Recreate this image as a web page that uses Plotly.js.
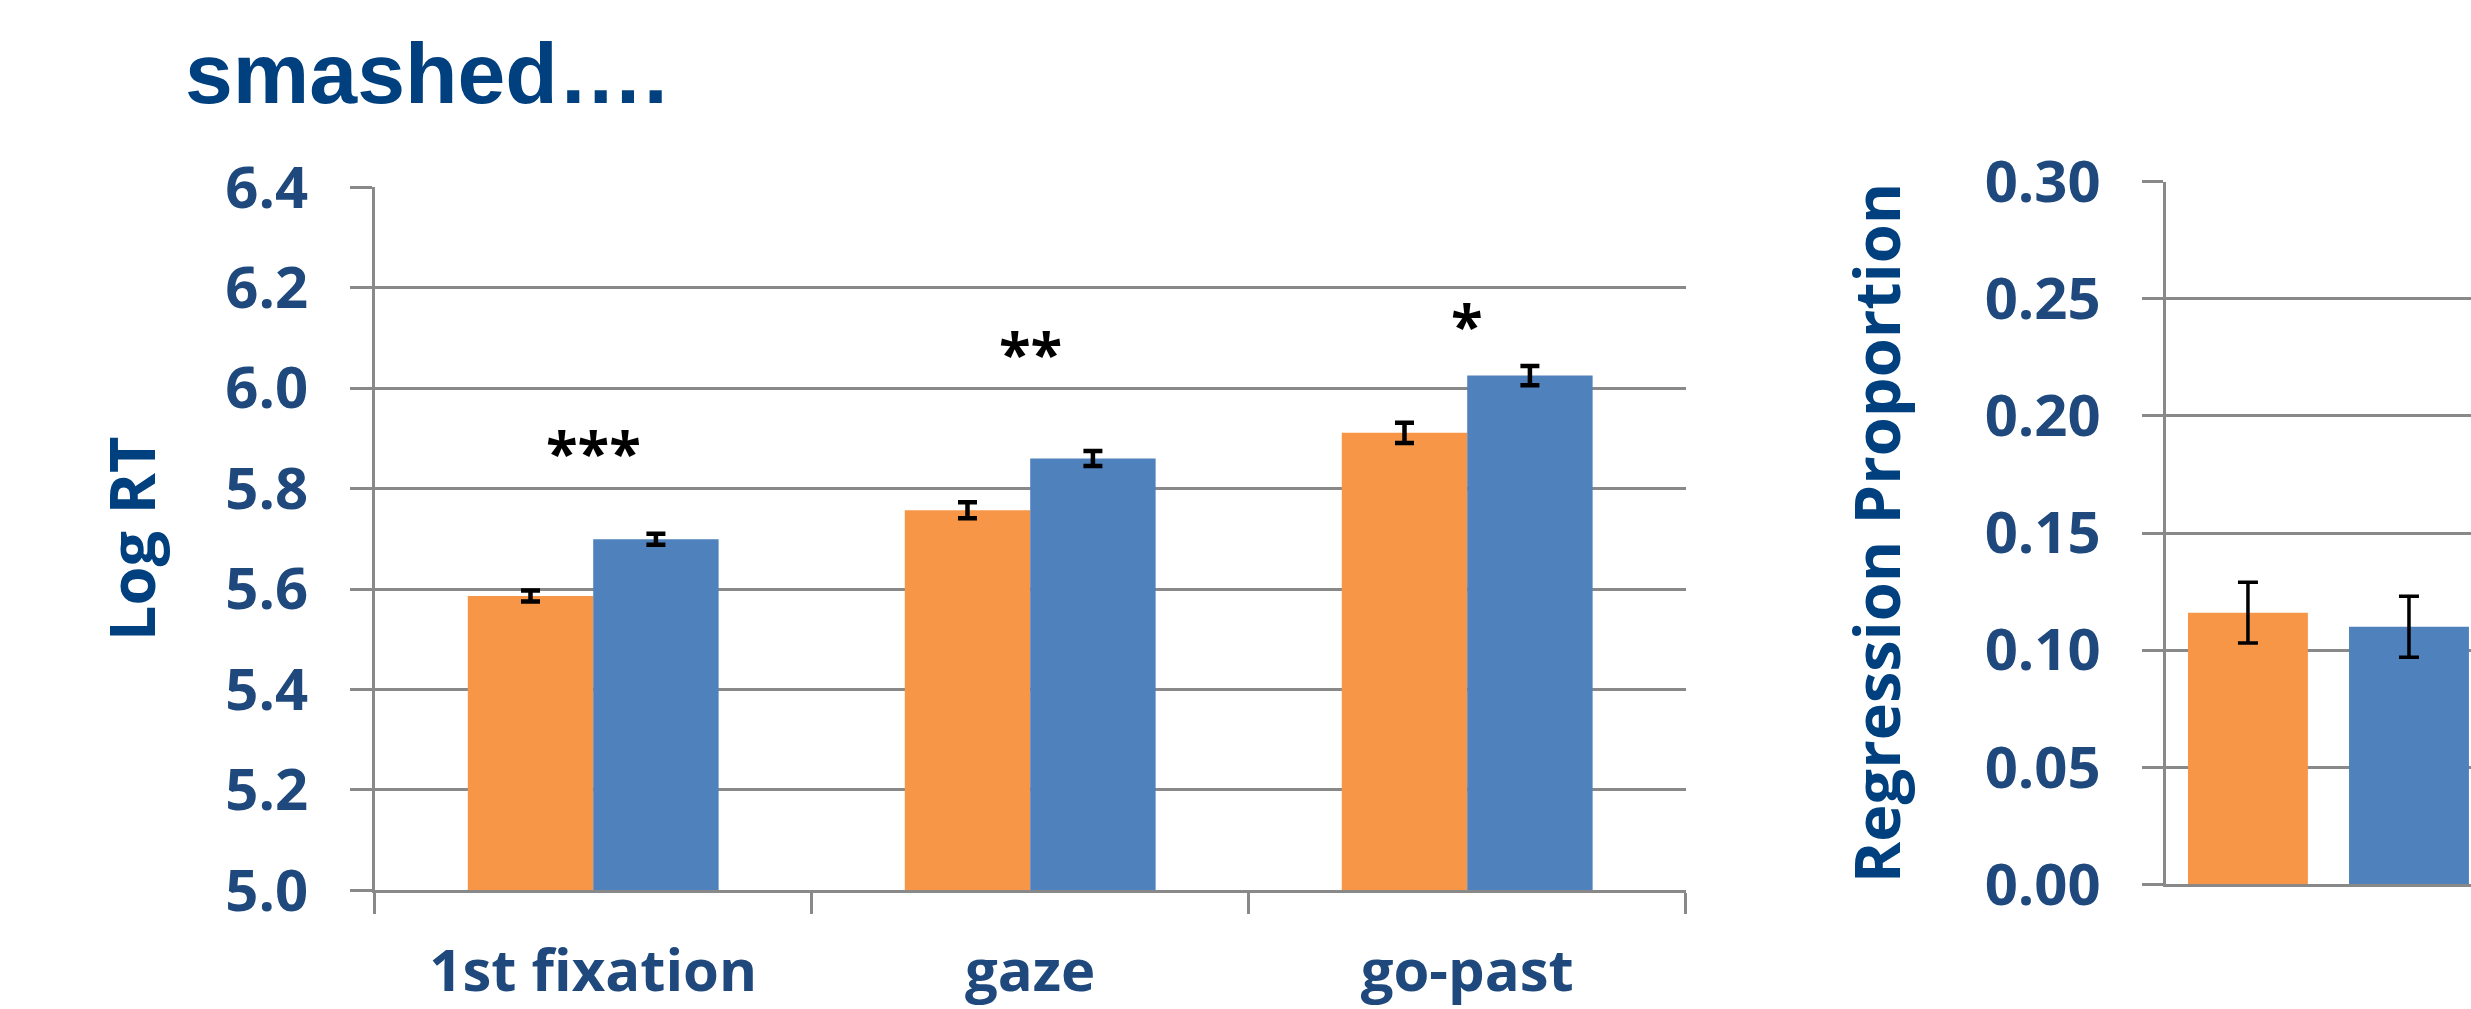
<!DOCTYPE html>
<html>
<head>
<meta charset="utf-8">
<script src="https://cdn.plot.ly/plotly-3.0.1.min.js"></script>
<style>
  html, body { margin: 0; padding: 0; background: #ffffff; }
  #chart { width: 2471px; height: 1009px; }
</style>
</head>
<body>
<div id="chart"></div>
<script>
// ---- data ----
const categories = ['1st fixation', 'gaze', 'go-past'];
const orangeRT = [5.586, 5.757, 5.911];
const orangeRTErr = [0.011, 0.016, 0.020];
const blueRT = [5.699, 5.860, 6.025];
const blueRTErr = [0.011, 0.015, 0.019];
const sigLabels = ['***', '**', '*'];
const sigLabelY = [5.893, 6.090, 6.146];
const rtTickVals = [5.0, 5.2, 5.4, 5.6, 5.8, 6.0, 6.2, 6.4];
const rtTickText = ['5.0', '5.2', '5.4', '5.6', '5.8', '6.0', '6.2', '6.4'];

const regCategory = ['regressions'];
const orangeReg = [0.116];
const orangeRegErr = [0.013];
const blueReg = [0.110];
const blueRegErr = [0.013];
const regTickVals = [0.00, 0.05, 0.10, 0.15, 0.20, 0.25, 0.30];
const regTickText = ['0.00', '0.05', '0.10', '0.15', '0.20', '0.25', '0.30'];

// ---- styles ----
const ORANGE = '#F79646';
const BLUE = '#4F81BD';
const GRID = '#898989';
const TICKBLUE = '#1F497D';
const TITLEBLUE = '#00407F';
const W = 2471, H = 1009;
const FONT = 'Open Sans, Lato, DejaVu Sans, sans-serif';

function px2x(p) { return p / W; }
function px2y(p) { return 1 - p / H; }

const traces = [
  {
    type: 'bar', name: 'Condition 1', x: categories, y: orangeRT,
    marker: { color: ORANGE },
    error_y: { type: 'data', array: orangeRTErr, visible: true, color: '#000000', thickness: 4.5, width: 9.5 },
    xaxis: 'x', yaxis: 'y', hoverinfo: 'x+y'
  },
  {
    type: 'bar', name: 'Condition 2', x: categories, y: blueRT,
    marker: { color: BLUE },
    error_y: { type: 'data', array: blueRTErr, visible: true, color: '#000000', thickness: 4.5, width: 9.5 },
    xaxis: 'x', yaxis: 'y', hoverinfo: 'x+y'
  },
  {
    type: 'bar', name: 'Condition 1', x: regCategory, y: orangeReg,
    marker: { color: ORANGE }, offset: -0.433, width: 0.370,
    error_y: { type: 'data', array: orangeRegErr, visible: true, color: '#000000', thickness: 3.5, width: 10 },
    xaxis: 'x2', yaxis: 'y2', hoverinfo: 'y'
  },
  {
    type: 'bar', name: 'Condition 2', x: regCategory, y: blueReg,
    marker: { color: BLUE }, offset: 0.064, width: 0.370,
    error_y: { type: 'data', array: blueRegErr, visible: true, color: '#000000', thickness: 3.5, width: 10 },
    xaxis: 'x2', yaxis: 'y2', hoverinfo: 'y'
  }
];

const annotations = categories.map((c, i) => ({
  x: c, y: sigLabelY[i], xref: 'x', yref: 'y',
  text: sigLabels[i], showarrow: false,
  xanchor: 'center', yanchor: 'middle', yshift: -10,
  font: { family: FONT, size: 58, color: '#000000', weight: 'bold' }
}));

const tickFont = { family: FONT, size: 58, color: TICKBLUE, weight: 'bold' };
const axTitleFont = { family: FONT, size: 63, color: TITLEBLUE, weight: 'bold' };

const layout = {
  width: W, height: H,
  margin: { l: 0, r: 0, t: 0, b: 0, pad: 0 },
  paper_bgcolor: '#ffffff', plot_bgcolor: '#ffffff',
  showlegend: false,
  barmode: 'group', bargap: 0.426, bargroupgap: 0,
  title: {
    text: 'smashed….',
    font: { family: 'Liberation Sans, Arial, sans-serif', size: 86, color: TITLEBLUE, weight: 'bold' },
    xref: 'container', yref: 'container',
    x: px2x(185), xanchor: 'left',
    y: px2y(43), yanchor: 'top'
  },
  xaxis: {
    domain: [px2x(374.7), px2x(1685.7)],
    type: 'category',
    showgrid: false, zeroline: false,
    showline: true, linecolor: GRID, linewidth: 3,
    ticks: 'outside', tickson: 'boundaries', ticklen: 21, tickwidth: 3, tickcolor: GRID,
    tickfont: tickFont, ticklabelstandoff: 28,
    fixedrange: true
  },
  yaxis: {
    domain: [px2y(890.3), px2y(187.3)],
    range: [5.0, 6.4],
    tickvals: rtTickVals, ticktext: rtTickText,
    showgrid: true, gridcolor: GRID, gridwidth: 3,
    zeroline: false,
    showline: true, linecolor: GRID, linewidth: 3,
    ticks: 'outside', ticklen: 22, tickwidth: 3, tickcolor: GRID,
    tickfont: tickFont, ticklabelstandoff: 30,
    title: { text: 'Log RT', font: axTitleFont, standoff: 50 },
    fixedrange: true
  },
  xaxis2: {
    domain: [px2x(2166.3), 1],
    type: 'category', anchor: 'y2',
    range: [-0.5, 0.4404],
    showgrid: false, zeroline: false,
    showline: true, linecolor: GRID, linewidth: 3,
    ticks: '', showticklabels: false,
    fixedrange: true
  },
  yaxis2: {
    domain: [px2y(884.3), px2y(181.7)],
    anchor: 'x2',
    range: [0, 0.30],
    tickvals: regTickVals, ticktext: regTickText,
    showgrid: true, gridcolor: GRID, gridwidth: 3,
    zeroline: false,
    showline: true, linecolor: GRID, linewidth: 3,
    ticks: 'outside', ticklen: 21, tickwidth: 3, tickcolor: GRID,
    tickfont: tickFont, ticklabelstandoff: 30,
    title: { text: 'Regression Proportion', font: axTitleFont, standoff: 64 },
    fixedrange: true
  },
  annotations: annotations
};

Plotly.newPlot('chart', traces, layout, { displayModeBar: false, staticPlot: true });
</script>
</body>
</html>
